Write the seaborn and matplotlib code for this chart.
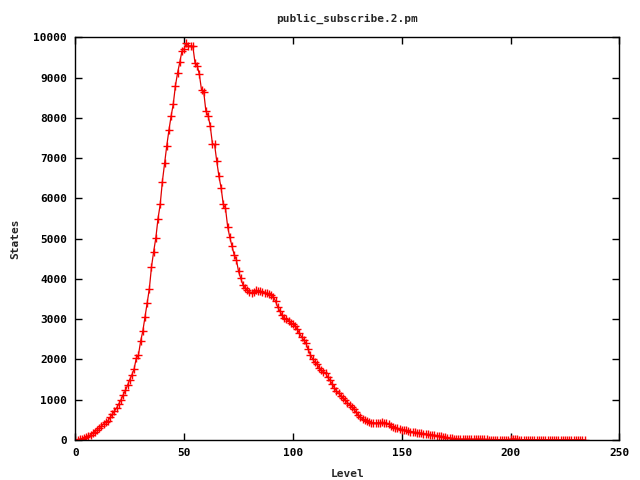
import matplotlib
matplotlib.use("Agg")
import matplotlib.pyplot as plt
import seaborn as sns
import pandas as pd

# States per level
levels = list(range(0, 235))
states = [
    5, 10, 20, 30, 45, 70, 100, 130, 170, 210,
    250, 300, 350, 400, 440, 480, 560, 640, 720, 800,
    900, 1000, 1120, 1230, 1360, 1500, 1620, 1760, 2030, 2110,
    2450, 2700, 3050, 3400, 3750, 4300, 4680, 5020, 5500, 5850,
    6420, 6870, 7300, 7690, 8040, 8340, 8800, 9120, 9380, 9660,
    9720, 9850, 9790, 9790, 9780, 9370, 9300, 9080, 8690, 8650,
    8170, 8060, 7800, 7360, 7340, 6920, 6550, 6260, 5850, 5760,
    5300, 5030, 4810, 4600, 4480, 4190, 4020, 3860, 3780, 3730,
    3680, 3660, 3680, 3720, 3700, 3690, 3680, 3660, 3640, 3620,
    3600, 3560, 3450, 3300, 3200, 3100, 3030, 3000, 2960, 2900,
    2870, 2830, 2750, 2650, 2560, 2480, 2400, 2250, 2120, 2020,
    1930, 1880, 1800, 1740, 1700, 1660, 1560, 1480, 1400, 1300,
    1220, 1160, 1100, 1050, 990, 930, 880, 830, 760, 690,
    620, 570, 530, 490, 460, 440, 430, 430, 420, 430,
    430, 440, 430, 420, 390, 350, 320, 300, 290, 270,
    260, 250, 240, 225, 210, 200, 190, 180, 175, 170,
    160, 150, 140, 130, 125, 120, 110, 100, 90, 80,
    70, 60, 50, 40, 30, 25, 22, 20, 20, 18,
    18, 17, 16, 16, 15, 15, 14, 14, 13, 13,
    12, 12, 12, 11, 11, 11, 10, 10, 10, 10,
    20, 25, 22, 15, 10, 9, 9, 9, 8, 8,
    8, 8, 7, 7, 7, 7, 6, 6, 6, 6,
    6, 5, 5, 5, 5, 5, 4, 4, 4, 4,
    4, 3, 3, 3, 3,
]
x_ticks = [0, 50, 100, 150, 200, 250]
y_ticks = list(range(0, 10001, 1000))

data = pd.DataFrame({"Level": levels, "States": states})

sns.set_style("white")
plt.rcParams["font.family"] = ["DejaVu Sans Mono"]
plt.rcParams["font.weight"] = "bold"
plt.rcParams["font.size"] = 8

fig = plt.figure(figsize=(6.4, 4.8), dpi=100)
ax = fig.add_axes([0.1177, 0.0833, 0.85, 0.8388])

sns.lineplot(data=data, x="Level", y="States", ax=ax, color="#e00000", linewidth=0.9,
             marker="+", markersize=5.5, markeredgewidth=1.0, markeredgecolor="red")

ax.set_xlim(0, 250)
ax.set_ylim(0, 10000)
ax.set_xticks(x_ticks)
ax.set_yticks(y_ticks)
ax.set_xticklabels([str(t) for t in x_ticks], fontweight="bold")
ax.set_yticklabels([str(t) for t in y_ticks], fontweight="bold")

# gnuplot style: inward ticks mirrored on all sides
ax.tick_params(direction="in", length=5, width=1, top=True, right=True,
               bottom=True, left=True, labelsize=8, pad=6, colors="black")
for s in ax.spines.values():
    s.set_color("black")
    s.set_linewidth(1)

ax.set_title("public_subscribe.2.pm", fontsize=8, fontweight="bold", pad=11)
ax.set_xlabel("Level", fontsize=8, fontweight="bold", labelpad=8)
ax.set_ylabel("States", fontsize=8, fontweight="bold", labelpad=9)

fig.savefig("out.png", dpi=100)
